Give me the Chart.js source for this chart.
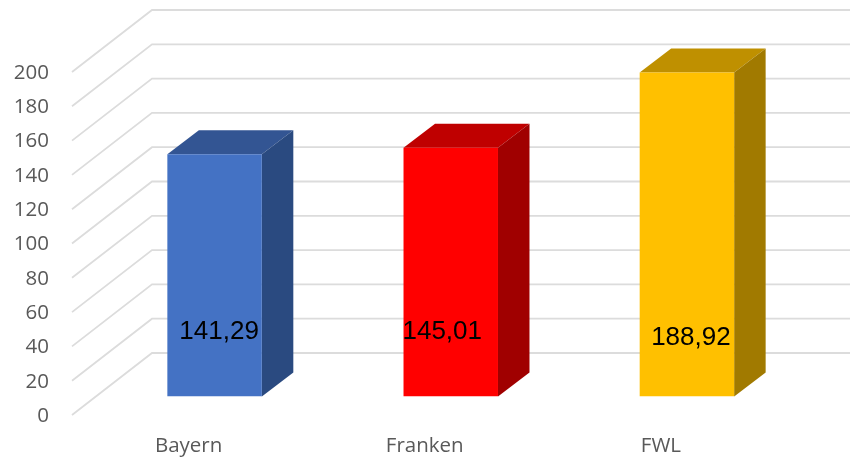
<!DOCTYPE html>
<html>
<head>
<meta charset="utf-8">
<style>html,body{margin:0;padding:0;background:#fff}canvas{display:block}</style>
<script src="https://cdn.jsdelivr.net/npm/chart.js@4"></script>
</head>
<body>
<canvas id="c" width="850" height="459"></canvas>
<script>
const categories = ['Bayern', 'Franken', 'FWL'];
const values = [141.29, 145.01, 188.92];
const valueLabels = ['141,29', '145,01', '188,92'];
const frontColors = ['#4472c4', '#ff0000', '#ffc000'];
const topColors = ['#335593', '#bf0000', '#bf9000'];
const sideColors = ['#2a4a80', '#a00000', '#a17a00'];
const labelShiftX = [4.5, -8.5, 4];
const labelHeight = [64.5, 64.5, 58.5];

const FLOOR_DROP = 18.5, WALL_RISE = 43.5, WALL_LEFT = 72, WALL_BACK = 152;
const DEPTH_X = 31.5, DEPTH_Y = 24;

const poly = (ctx, pts, color) => {
  ctx.fillStyle = color;
  ctx.beginPath();
  pts.forEach((p, i) => i ? ctx.lineTo(p[0], p[1]) : ctx.moveTo(p[0], p[1]));
  ctx.closePath();
  ctx.fill();
};

const scene = {
  id: 'scene',
  beforeDatasetsDraw(chart) {
    const ctx = chart.ctx, y = chart.scales.y;
    ctx.save();
    ctx.strokeStyle = '#dcdcdc';
    ctx.lineWidth = 1.8;
    y.ticks.forEach(t => {
      const p = y.getPixelForValue(t.value);
      ctx.beginPath();
      ctx.moveTo(WALL_LEFT, p + FLOOR_DROP);
      ctx.lineTo(WALL_BACK, p - WALL_RISE);
      ctx.lineTo(chart.width, p - WALL_RISE);
      ctx.stroke();
    });
    chart.getDatasetMeta(0).data.forEach((b, i) => {
      const l = b.x - b.width / 2, r = b.x + b.width / 2;
      poly(ctx, [[l, b.y], [r, b.y], [r + DEPTH_X, b.y - DEPTH_Y], [l + DEPTH_X, b.y - DEPTH_Y]], topColors[i]);
      poly(ctx, [[r, b.y], [r + DEPTH_X, b.y - DEPTH_Y], [r + DEPTH_X, b.base - DEPTH_Y], [r, b.base]], sideColors[i]);
    });
    ctx.restore();
  },
  afterDatasetsDraw(chart) {
    const ctx = chart.ctx;
    ctx.save();
    ctx.fillStyle = '#000';
    ctx.font = '26px "Liberation Sans", Arial, sans-serif';
    ctx.textAlign = 'center';
    ctx.textBaseline = 'middle';
    chart.getDatasetMeta(0).data.forEach((b, i) => {
      ctx.fillText(valueLabels[i], b.x + labelShiftX[i], b.base - labelHeight[i]);
    });
    ctx.restore();
  }
};

new Chart(document.getElementById('c'), {
  type: 'bar',
  data: {
    labels: categories,
    datasets: [{
      data: values,
      backgroundColor: frontColors,
      borderWidth: 0,
      barPercentage: 1,
      categoryPercentage: 0.4
    }]
  },
  plugins: [scene],
  options: {
    responsive: false,
    animation: false,
    layout: { padding: { top: 53.5, right: 45, left: 0, bottom: 0 } },
    plugins: { legend: { display: false }, title: { display: false }, tooltip: { enabled: false } },
    scales: {
      x: {
        grid: { display: false, drawTicks: false },
        border: { display: false },
        afterFit(s) { s.height = 62.5; },
        ticks: {
          color: '#595959',
          font: { family: '"Open Sans"', size: 20.5 },
          padding: 37,
          labelOffset: -26,
          maxRotation: 0,
          autoSkip: false
        }
      },
      y: {
        min: 0,
        max: 200,
        grid: { display: false, drawTicks: false },
        border: { display: false },
        afterFit(s) { s.width = 96.5; s.paddingTop = 0; s.paddingBottom = 0; },
        ticks: {
          stepSize: 20,
          color: '#595959',
          font: { family: '"Open Sans"', size: 20.5 },
          padding: 47.5,
          labelOffset: 19.5
        }
      }
    }
  }
});
</script>
</body>
</html>
